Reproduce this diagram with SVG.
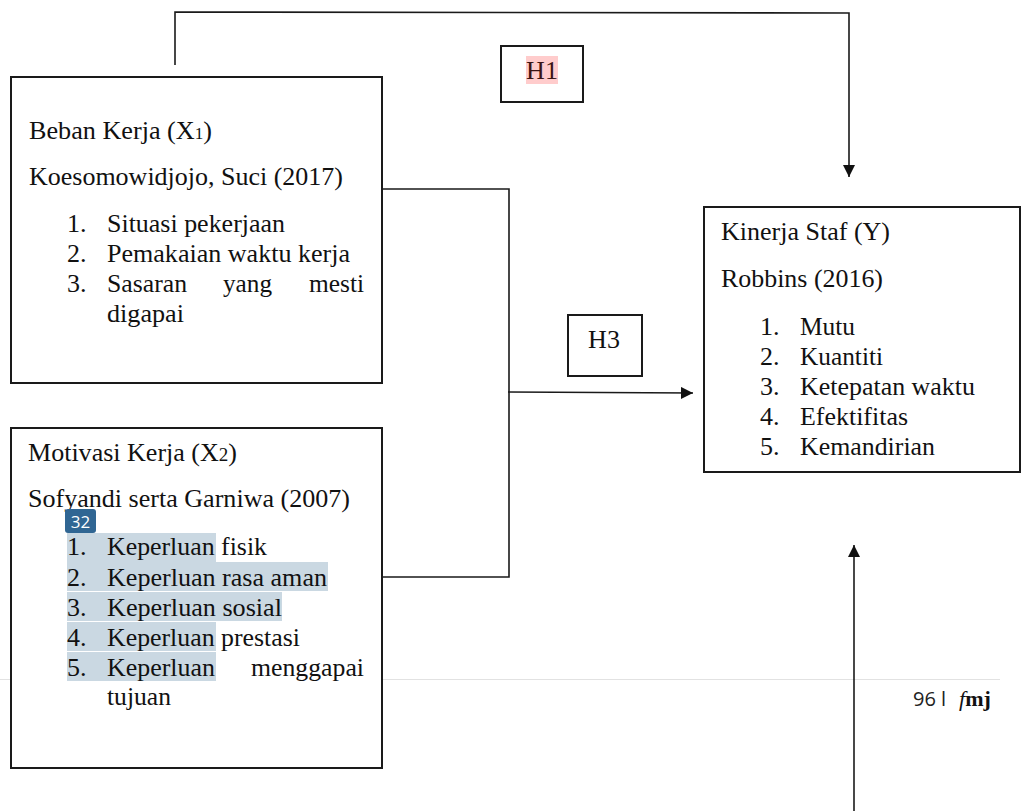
<svg xmlns="http://www.w3.org/2000/svg" width="1021" height="811" viewBox="0 0 1021 811">
<style>
.box{fill:#fff;stroke:#1a1a1a;stroke-width:2}
.t{font-size:26px;fill:#111}
.conn{fill:none;stroke:#1a1a1a;stroke-width:1.6}
.hl{fill:#cad8e2}
</style>
<defs>
<marker id="ah" viewBox="0 0 10 10" refX="10" refY="5" markerWidth="12" markerHeight="12" markerUnits="userSpaceOnUse" orient="auto">
<path d="M0,0 L10,5 L0,10 z" fill="#111"/>
</marker>
</defs>
<rect width="1021" height="811" fill="#fff"/>
<line x1="0" y1="679.5" x2="1000" y2="679.5" stroke="#e2e2e2" stroke-width="1"/>

<g id="connectors">
<polyline class="conn" points="175,65 175,12 849,13 849,177" marker-end="url(#ah)"/>
<polyline class="conn" points="382,189 509,189 509,577 382,577"/>
<line class="conn" x1="508" y1="392" x2="693" y2="393" marker-end="url(#ah)"/>
<line class="conn" x1="854" y1="811" x2="854" y2="545" marker-end="url(#ah)"/>
</g>

<g font-family="Liberation Serif, Times New Roman, serif">
<g id="h1">
<rect class="box" x="501" y="46" width="82" height="56"/>
<rect x="526" y="56" width="32" height="28" fill="#ffcccc"/>
<text class="t" x="542" y="79" text-anchor="middle" style="fill:#3a1414">H1</text>
</g>

<g id="h3">
<rect class="box" x="568" y="315" width="74" height="61"/>
<text class="t" x="604" y="348" text-anchor="middle">H3</text>
</g>

<g id="beban-kerja">
<rect class="box" x="11" y="77" width="371" height="306"/>
<text class="t" x="29" y="139" textLength="183" lengthAdjust="spacingAndGlyphs">Beban Kerja (X<tspan font-size="17">1</tspan>)</text>
<text class="t" x="29" y="185" textLength="314" lengthAdjust="spacingAndGlyphs">Koesomowidjojo, Suci (2017)</text>
<text class="t" x="67" y="232">1.</text>
<text class="t" x="107" y="232" textLength="178" lengthAdjust="spacingAndGlyphs">Situasi pekerjaan</text>
<text class="t" x="67" y="262">2.</text>
<text class="t" x="107" y="262" textLength="243" lengthAdjust="spacingAndGlyphs">Pemakaian waktu kerja</text>
<text class="t" x="67" y="292">3.</text>
<text class="t" x="107" y="292" textLength="80" lengthAdjust="spacingAndGlyphs">Sasaran</text>
<text class="t" x="223" y="292" textLength="49" lengthAdjust="spacingAndGlyphs">yang</text>
<text class="t" x="309" y="292" textLength="55" lengthAdjust="spacingAndGlyphs">mesti</text>
<text class="t" x="107" y="322" textLength="77" lengthAdjust="spacingAndGlyphs">digapai</text>
</g>

<g id="motivasi-kerja">
<rect class="box" x="11" y="428" width="371" height="340"/>
<text class="t" x="28" y="461" textLength="209" lengthAdjust="spacingAndGlyphs">Motivasi Kerja (X<tspan font-size="19">2</tspan>)</text>
<text class="t" x="28" y="507" textLength="322" lengthAdjust="spacingAndGlyphs">Sofyandi serta Garniwa (2007)</text>
<rect class="hl" x="67" y="533" width="149" height="29"/>
<rect class="hl" x="67" y="562" width="261" height="29"/>
<rect class="hl" x="67" y="592" width="215" height="29"/>
<rect class="hl" x="67" y="622" width="149" height="29"/>
<rect class="hl" x="67" y="652" width="149" height="29"/>
<rect x="65" y="509" width="31" height="24" rx="3" fill="#306693"/>
<text x="80.5" y="528" text-anchor="middle" font-family="Open Sans, Noto Sans, sans-serif" font-size="17" fill="#fff">32</text>
<text class="t" x="67" y="555">1.</text>
<text class="t" x="107" y="555" textLength="160" lengthAdjust="spacingAndGlyphs">Keperluan fisik</text>
<text class="t" x="67" y="586">2.</text>
<text class="t" x="107" y="586" textLength="220" lengthAdjust="spacingAndGlyphs">Keperluan rasa aman</text>
<text class="t" x="67" y="616">3.</text>
<text class="t" x="107" y="616" textLength="175" lengthAdjust="spacingAndGlyphs">Keperluan sosial</text>
<text class="t" x="67" y="646">4.</text>
<text class="t" x="107" y="646" textLength="193" lengthAdjust="spacingAndGlyphs">Keperluan prestasi</text>
<text class="t" x="67" y="676">5.</text>
<text class="t" x="107" y="676" textLength="108" lengthAdjust="spacingAndGlyphs">Keperluan</text>
<text class="t" x="251" y="676" textLength="113" lengthAdjust="spacingAndGlyphs">menggapai</text>
<text class="t" x="107" y="705" textLength="64" lengthAdjust="spacingAndGlyphs">tujuan</text>
</g>

<g id="kinerja-staf">
<rect class="box" x="704" y="207" width="316" height="265"/>
<text class="t" x="721" y="240" textLength="169" lengthAdjust="spacingAndGlyphs">Kinerja Staf (Y)</text>
<text class="t" x="721" y="287" textLength="162" lengthAdjust="spacingAndGlyphs">Robbins (2016)</text>
<text class="t" x="760" y="335">1.</text>
<text class="t" x="800" y="335" textLength="55" lengthAdjust="spacingAndGlyphs">Mutu</text>
<text class="t" x="760" y="365">2.</text>
<text class="t" x="800" y="365" textLength="83" lengthAdjust="spacingAndGlyphs">Kuantiti</text>
<text class="t" x="760" y="395">3.</text>
<text class="t" x="800" y="395" textLength="175" lengthAdjust="spacingAndGlyphs">Ketepatan waktu</text>
<text class="t" x="760" y="425">4.</text>
<text class="t" x="800" y="425" textLength="108" lengthAdjust="spacingAndGlyphs">Efektifitas</text>
<text class="t" x="760" y="455">5.</text>
<text class="t" x="800" y="455" textLength="135" lengthAdjust="spacingAndGlyphs">Kemandirian</text>
</g>
</g>

<g id="footer">
<text x="913" y="706" font-family="Open Sans, Noto Sans, sans-serif" font-size="20" fill="#222">96 l</text>
<text x="959" y="706" font-family="Liberation Serif, serif" font-size="22" fill="#111"><tspan font-style="italic">f</tspan><tspan font-weight="bold">mj</tspan></text>
</g>
</svg>
